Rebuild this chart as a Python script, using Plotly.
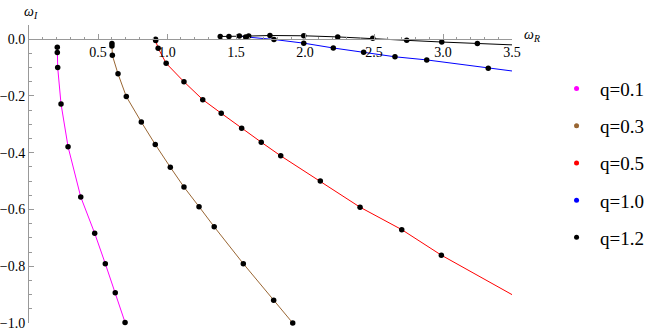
import plotly.graph_objects as go

# q = 0.1 (magenta)
q01_x = [0.205, 0.205, 0.208, 0.232, 0.283, 0.375, 0.476, 0.553, 0.625, 0.696]
q01_y = [-0.028, -0.047, -0.100, -0.228, -0.379, -0.556, -0.684, -0.791, -0.893, -0.998]

# q = 0.3 (brown)
q03_x = [0.601, 0.601, 0.604, 0.645, 0.705, 0.814, 0.915, 1.024, 1.123, 1.232, 1.342, 1.553, 1.773, 1.911]
q03_y = [-0.015, -0.024, -0.057, -0.122, -0.202, -0.292, -0.371, -0.451, -0.521, -0.590, -0.661, -0.791, -0.920, -1.0]

# q = 0.5 (red)
q05_x = [0.917, 0.918, 0.936, 0.994, 1.123, 1.259, 1.393, 1.541, 1.683, 1.824, 2.111, 2.399, 2.701, 2.988]
q05_y = [0.0, -0.005, -0.032, -0.085, -0.150, -0.213, -0.261, -0.314, -0.363, -0.411, -0.500, -0.592, -0.671, -0.761]
q05_line_end = (3.5, -0.90)

# q = 1.0 (blue)
q10_x = [1.524, 1.570, 1.775, 1.991, 2.205, 2.425, 2.652, 2.882, 3.328]
q10_y = [0.011, 0.008, -0.001, -0.014, -0.031, -0.046, -0.062, -0.073, -0.102]
q10_line_end = (3.5, -0.112)

# q = 1.2 (black)
q12_x = [1.386, 1.449, 1.592, 1.746, 1.991, 2.237, 2.491, 2.737, 2.991, 3.249]
q12_y = [0.0095, 0.0095, 0.011, 0.013, 0.012, 0.008, 0.003, -0.004, -0.010, -0.015]
q12_line_end = (3.5, -0.020)

legend_labels = ["q=0.1", "q=0.3", "q=0.5", "q=1.0", "q=1.2"]
colors = ["#FF00FF", "#996633", "#FF0000", "#0000FF", "#000000"]

x_ticks = [0.5, 1.0, 1.5, 2.0, 2.5, 3.0, 3.5]
y_ticks = [-1.0, -0.8, -0.6, -0.4, -0.2, 0.0]

series = [
    (q01_x, q01_y, None),
    (q03_x, q03_y, None),
    (q05_x, q05_y, q05_line_end),
    (q10_x, q10_y, q10_line_end),
    (q12_x, q12_y, q12_line_end),
]

fig = go.Figure()
for (xs, ys, end), col in zip(series, colors):
    lx = list(xs) + ([end[0]] if end else [])
    ly = list(ys) + ([end[1]] if end else [])
    fig.add_trace(go.Scatter(x=lx, y=ly, mode="lines",
                             line=dict(color=col, width=1), showlegend=False,
                             hoverinfo="skip"))
for (xs, ys, end), col in zip(series, colors):
    fig.add_trace(go.Scatter(x=xs, y=ys, mode="markers",
                             marker=dict(color="black", size=5.5),
                             showlegend=False, cliponaxis=False))
for i, (lab, col) in enumerate(zip(legend_labels, colors)):
    fig.add_trace(go.Scatter(x=[None], y=[None], mode="markers", name=lab,
                             marker=dict(color=col, size=5),
                             legendgroup=f"g{i}", showlegend=True))

font = "Times New Roman, Liberation Serif, DejaVu Serif, serif"
fig.update_layout(
    width=648, height=334,
    margin=dict(l=29, r=136, t=25, b=11, autoexpand=False),
    paper_bgcolor="white", plot_bgcolor="white",
    font=dict(family=font, size=14, color="black"),
    xaxis=dict(range=[0, 3.5], anchor="free", position=1.0 / 1.05,
               automargin=False,
               showline=True, linecolor="#999999", linewidth=1,
               showgrid=False, zeroline=False,
               tickvals=x_ticks, ticktext=[f"{v:.1f}" for v in x_ticks],
               ticks="inside", ticklen=5, tickcolor="#999999",
               minor=dict(dtick=0.1, tick0=0, ticks="inside", ticklen=2.5,
                          tickcolor="#999999", showgrid=False),
               tickfont=dict(family=font, size=14)),
    yaxis=dict(range=[-1.0, 0.05], automargin=False,
               showline=True, linecolor="#999999", linewidth=1,
               showgrid=False, zeroline=False,
               tickvals=y_ticks, ticktext=[("\u2212" if v < 0 else "") + f"{abs(v):.1f}" for v in y_ticks],
               ticks="inside", ticklen=5, tickcolor="#999999",
               minor=dict(dtick=0.05, tick0=0, ticks="inside", ticklen=2.5,
                          tickcolor="#999999", showgrid=False),
               tickfont=dict(family=font, size=14)),
    legend=dict(x=1.085, y=0.85, xanchor="left", yanchor="top",
                font=dict(family=font, size=19), tracegroupgap=9.5,
                bgcolor="rgba(0,0,0,0)", itemwidth=37),
    annotations=[
        dict(text="<i>ω</i><sub><i>I</i></sub>", x=0.005, y=1.0, xref="paper", yref="paper",
             xanchor="center", yanchor="bottom", showarrow=False, yshift=2,
             font=dict(family=font, size=14)),
        dict(text="<i>ω</i><sub><i>R</i></sub>", x=1.0, y=1.0 / 1.05, xref="paper", yref="paper",
             xanchor="left", yanchor="middle", showarrow=False, xshift=10, yshift=4,
             font=dict(family=font, size=14)),
    ],
)

fig.write_html("out.html")
